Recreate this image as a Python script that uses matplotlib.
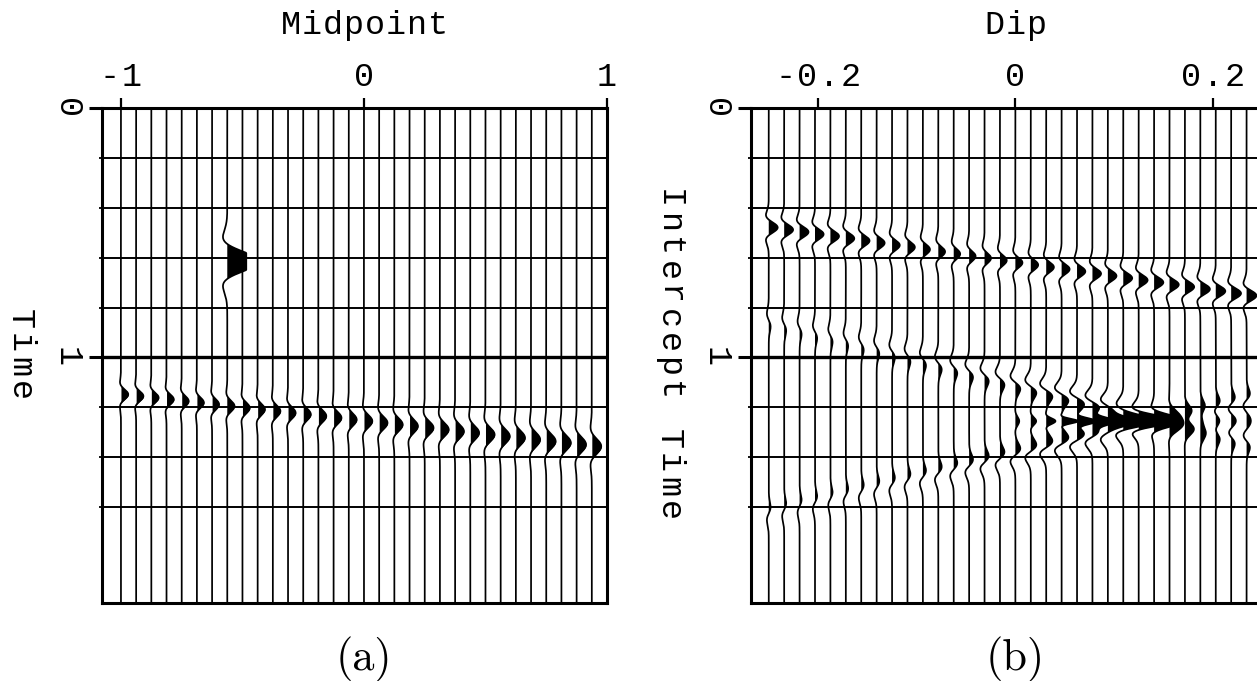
import numpy as np
import matplotlib.pyplot as plt
import matplotlib.transforms as mtransforms

plt.rcParams['font.family'] = ['Liberation Mono', 'DejaVu Sans Mono']

# time samples shared by both panels
t = np.arange(0.0, 1.99, 0.002)
grid_times = [0.2, 0.4, 0.6, 0.8, 1.2, 1.4, 1.6]

# ---- (a) midpoint gather: 32 traces, 1/16 apart, starting at -1
mid_first, mid_step, mid_count = -1.0, 1 / 16, 32
mid_ticks = [-1, 0, 1]
mid_ticklabels = ['-1', '0', '1']

# point diffractor
spike_mid = -0.5625
spike_time = 0.615
spike_amp = 2.1
spike_width = 0.07

# dipping reflection, one pick per trace
row_time = [1.148, 1.155, 1.161, 1.168, 1.175, 1.181, 1.188, 1.195,
            1.202, 1.208, 1.215, 1.222, 1.228, 1.235, 1.242, 1.249,
            1.255, 1.262, 1.269, 1.275, 1.282, 1.289, 1.296, 1.302,
            1.309, 1.316, 1.322, 1.329, 1.336, 1.342, 1.349, 1.356]
row_amp = [0.48, 0.48, 0.48, 0.48, 0.46, 0.46, 0.46, 0.48,
           0.48, 0.48, 0.50, 0.50, 0.50, 0.52, 0.52, 0.52,
           0.55, 0.55, 0.55, 0.55, 0.58, 0.58, 0.58, 0.58,
           0.60, 0.60, 0.60, 0.60, 0.62, 0.62, 0.62, 0.62]
row_width = [0.036, 0.036, 0.037, 0.037, 0.038, 0.038, 0.039, 0.040,
             0.040, 0.041, 0.042, 0.042, 0.043, 0.044, 0.044, 0.045,
             0.046, 0.046, 0.047, 0.048, 0.048, 0.049, 0.050, 0.050,
             0.051, 0.052, 0.052, 0.053, 0.054, 0.054, 0.055, 0.055]

# ---- (b) slant stack: 32 dip traces, 1/64 apart, starting at -0.25
dip_first, dip_step, dip_count = -0.25, 1 / 64, 32
dip_ticks = [-0.2, 0, 0.2]
dip_ticklabels = ['-0.2', '0', '0.2']

# the diffractor becomes a line in (dip, intercept)
line_time = [0.479, 0.488, 0.497, 0.506, 0.514, 0.523, 0.532, 0.541,
             0.550, 0.558, 0.567, 0.576, 0.585, 0.594, 0.602, 0.611,
             0.620, 0.629, 0.638, 0.646, 0.655, 0.664, 0.673, 0.682,
             0.690, 0.699, 0.708, 0.717, 0.726, 0.734, 0.743, 0.752]
line_amp = [0.58, 0.58, 0.58, 0.56, 0.56, 0.55, 0.54, 0.52,
            0.50, 0.48, 0.46, 0.44, 0.42, 0.42, 0.42, 0.44,
            0.46, 0.48, 0.50, 0.52, 0.54, 0.56, 0.56, 0.58,
            0.58, 0.60, 0.60, 0.60, 0.62, 0.62, 0.64, 0.64]

# the dipping reflection focuses near one dip
focus_time = 1.255
focus_amp = [0.0] * 16 + [0.25, 0.35, 0.60, 1.05, 1.25, 1.35, 1.42, 1.48,
                          1.55, 1.65, 1.10, 0.85, 0.68, 0.52, 0.40, 0.30]
focus_width = [0.03] * 16 + [0.030, 0.026, 0.020, 0.016, 0.020, 0.024, 0.028, 0.032,
                             0.036, 0.042, 0.052, 0.052, 0.050, 0.050, 0.050, 0.050]

# truncation tails from both ends of the reflection
edge_hi_time = [0.850, 0.866, 0.881, 0.897, 0.912, 0.928, 0.944, 0.959,
                0.975, 0.991, 1.006, 1.022, 1.037, 1.053, 1.069, 1.084,
                1.100, 1.116, 1.131, 1.147, 1.162, 1.178, 1.194, 1.209,
                1.225, 1.241, 1.256, 1.272, 1.287, 1.303, 1.319, 1.334]
edge_lo_time = [1.625, 1.610, 1.596, 1.581, 1.566, 1.552, 1.537, 1.522,
                1.508, 1.493, 1.479, 1.464, 1.449, 1.435, 1.420, 1.405,
                1.391, 1.376, 1.361, 1.347, 1.332, 1.318, 1.303, 1.288,
                1.274, 1.259, 1.244, 1.230, 1.215, 1.200, 1.186, 1.171]
edge_amp = [0.12, 0.13, 0.13, 0.14, 0.14, 0.15, 0.16, 0.17,
            0.18, 0.19, 0.20, 0.22, 0.23, 0.25, 0.27, 0.29,
            0.32, 0.36, 0.40, 0.44, 0.46, 0.46, 0.46, 0.42,
            0.38, 0.30, 0.30, 0.32, 0.30, 0.28, 0.25, 0.22]


def pulse(tc, width, b):
    u = (t - tc) / width
    return (1 - 2 * b * u ** 2) * np.exp(-u ** 2)


def bend(tc, width):
    u = (t - tc) / width
    return 2.33 * u * np.exp(-u ** 2)


# build the gathers
mid_pos = mid_first + mid_step * np.arange(mid_count)
gather_a = np.zeros((mid_count, t.size))
for k in range(mid_count):
    gather_a[k] += row_amp[k] * pulse(row_time[k], row_width[k], 0.5)
k_spike = int(round((spike_mid - mid_first) / mid_step))
gather_a[k_spike] += spike_amp * pulse(spike_time, spike_width, 0.5)

dip_pos = dip_first + dip_step * np.arange(dip_count)
gather_b = np.zeros((dip_count, t.size))
for k in range(dip_count):
    gather_b[k] += line_amp[k] * pulse(line_time[k], 0.04, 0.8)
    gather_b[k] += focus_amp[k] * pulse(focus_time, focus_width[k], 0.3)
    gather_b[k] += edge_amp[k] * bend(edge_hi_time[k], 0.038)
    gather_b[k] -= edge_amp[k] * bend(edge_lo_time[k], 0.038)


def wiggle(ax, pos, gather, step, clip):
    for x0, s in zip(pos, gather):
        x = x0 + np.clip(s, -clip, clip) * step
        ax.fill_betweenx(t, x0, x, where=x > x0, interpolate=True,
                         color='k', lw=0, zorder=2)
        ax.plot(x, t, color='k', lw=1.25, zorder=3)


def spaced(ax, x, y, s, trans, pitch, dx=0, dy=0, vertical=False, **kw):
    # monospace text with wide letter pitch, one glyph at a time
    n = len(s)
    for i, ch in enumerate(s):
        off = (i - (n - 1) / 2) * pitch
        if vertical:
            tr = trans + mtransforms.Affine2D().translate(dx, dy - off)
            ax.text(x, y, ch, transform=tr, rotation=270, rotation_mode='anchor',
                    ha='center', va='baseline', **kw)
        else:
            tr = trans + mtransforms.Affine2D().translate(dx + off, dy)
            ax.text(x, y, ch, transform=tr, ha='center', va='baseline', **kw)


def frame(ax, xlim, xticks, xticklabels, xlabel, ylabel, tag):
    ax.set_xlim(*xlim)
    ax.set_ylim(1.984, 0)
    for sp in ax.spines.values():
        sp.set_linewidth(2.2)
    for g in grid_times:
        ax.axhline(g, color='k', lw=1.4, zorder=4)
    ax.axhline(1.0, color='k', lw=2.4, zorder=4)

    ax.xaxis.set_ticks_position('top')
    ax.set_xticks(xticks)
    ax.tick_params(axis='x', direction='out', length=7.5, width=1.6,
                   labeltop=False, labelbottom=False)
    ax.set_yticks([0, 1])
    ax.set_yticks(grid_times, minor=True)
    ax.tick_params(axis='y', which='major', direction='out', length=9.5,
                   width=2.2, labelleft=False)
    ax.tick_params(axis='y', which='minor', direction='out', length=2.5, width=1.3)

    txt = dict(fontsize=24)
    xtr = ax.get_xaxis_transform()
    for v, lab in zip(xticks, xticklabels):
        spaced(ax, v, 1.0, lab, xtr, 22, dy=22, **txt)
    spaced(ax, 0, 1.0, xlabel, xtr, 21, dy=74, **txt)

    ytr = ax.get_yaxis_transform()
    for v in [0, 1]:
        spaced(ax, 0.0, v, str(v), ytr, 22, dx=-44, vertical=True, **txt)
    spaced(ax, 0.0, 0.99, ylabel, ytr, 24, dx=-91, vertical=True, **txt)

    ax.text(0, 0, tag, transform=xtr + mtransforms.Affine2D().translate(0, -56),
            fontfamily='cmr10', fontsize=32, ha='center', va='center')


fig = plt.figure(figsize=(12.57, 6.81), dpi=100)
W, H = 1257, 681
ax_a = fig.add_axes([102 / W, 1 - 603 / H, 505 / W, 495 / H])
ax_b = fig.add_axes([751 / W, 1 - 603 / H, 511 / W, 495 / H])

wiggle(ax_a, mid_pos, gather_a, mid_step, 1.25)
frame(ax_a, (-1.078, 1.0), mid_ticks, mid_ticklabels, 'Midpoint', 'Time', '(a)')

wiggle(ax_b, dip_pos, gather_b, dip_step, 1.65)
frame(ax_b, (-0.268, 0.25), dip_ticks, dip_ticklabels, 'Dip', 'Intercept Time', '(b)')

fig.savefig('out.png', dpi=100)
